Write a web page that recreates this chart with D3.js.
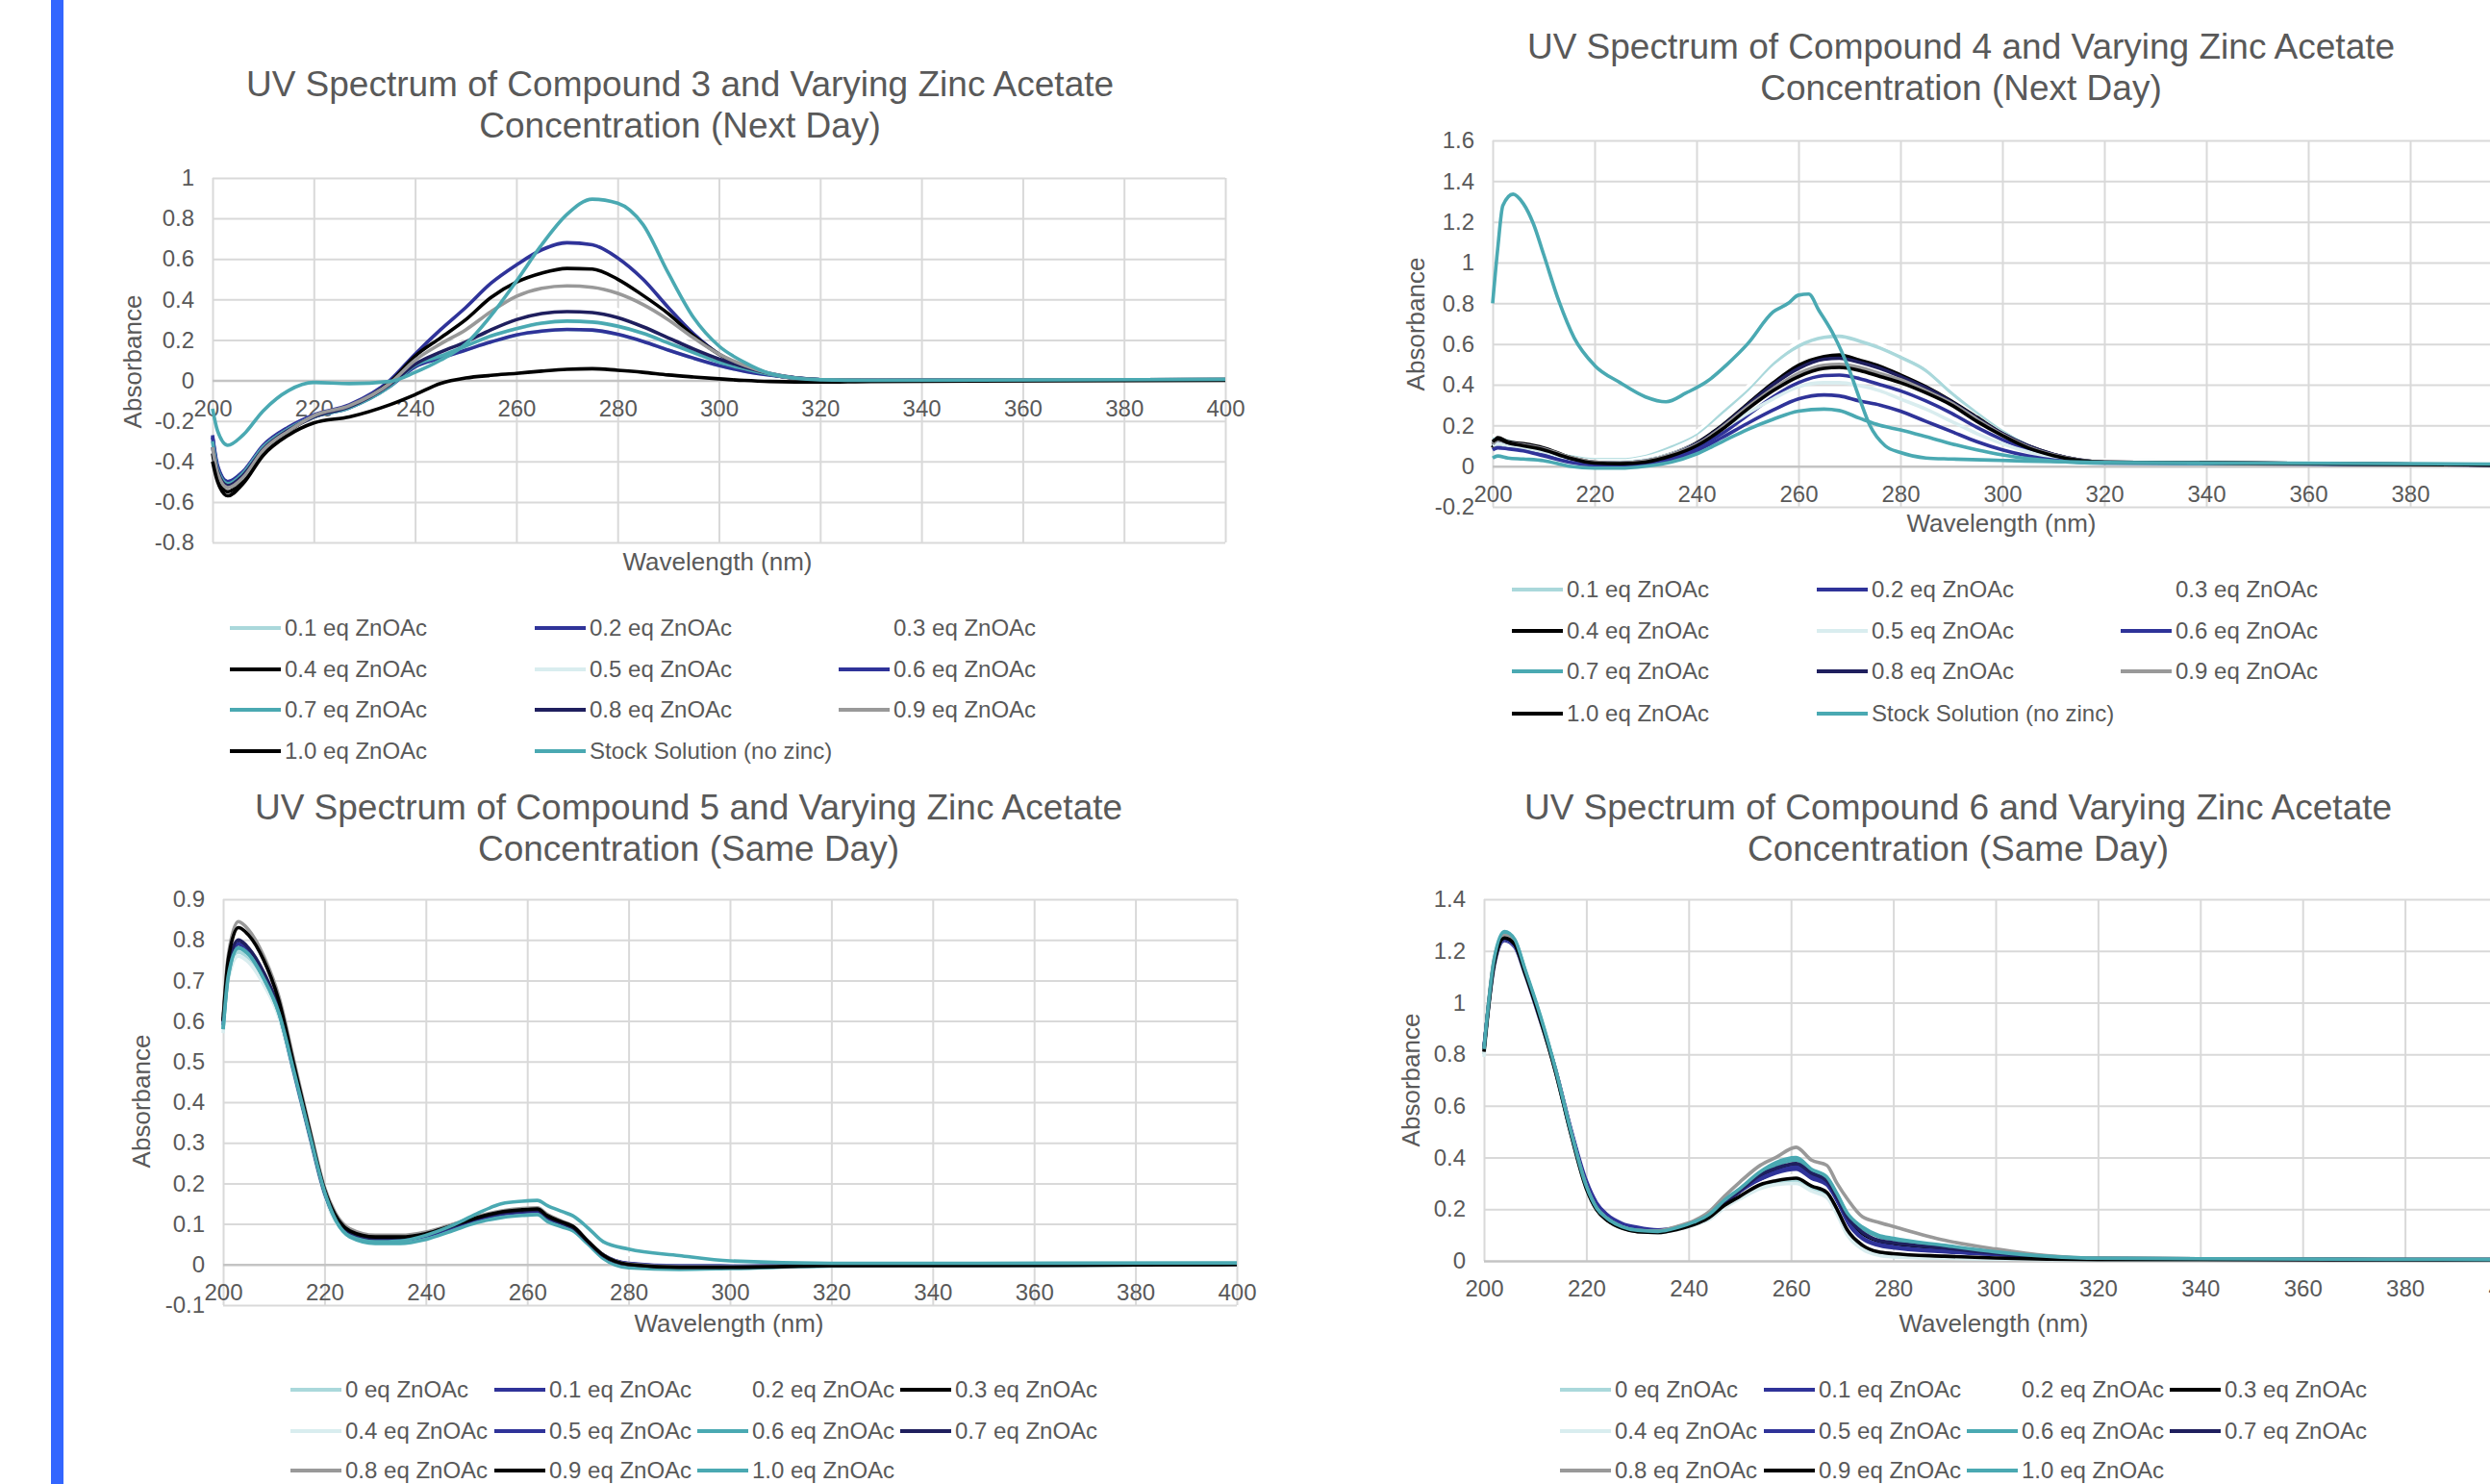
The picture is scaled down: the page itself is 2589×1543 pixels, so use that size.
<!DOCTYPE html>
<html>
<head>
<meta charset="utf-8">
<script src="https://cdn.jsdelivr.net/npm/d3@7"></script>
<style>
    body { margin: 0; background: #fff; overflow: hidden; }
    text { font-family: "Liberation Sans", Arial, sans-serif; fill: #595959; }
</style>
</head>
<body>
<div id="chart"></div>
<script>

/* * * * * * * * * * * * *
 *   UV spectra, 4 panels *
 * * * * * * * * * * * * */

// ---- Compound 3 (next day) ----
const c3Wl = [200,201,203,206,210,215,220,227,235,240,245,250,255,260,265,270,275,280,285,290,295,300,305,310,320,330,400];
const c3Eq01 = [-0.28,-0.43,-0.50,-0.45,-0.33,-0.24,-0.18,-0.135,-0.03,0.066,0.11,0.15,0.19,0.224,0.243,0.251,0.248,0.227,0.192,0.15,0.11,0.074,0.046,0.027,0.004,0,0.004];
const c3Eq02 = [-0.27,-0.42,-0.50,-0.45,-0.32,-0.23,-0.17,-0.12,0.0,0.13,0.25,0.36,0.48,0.57,0.645,0.68,0.67,0.605,0.50,0.36,0.23,0.13,0.067,0.03,0.003,0,0.005];
const c3Eq03 = [-0.32,-0.45,-0.52,-0.47,-0.34,-0.245,-0.18,-0.13,-0.02,0.09,0.16,0.22,0.29,0.34,0.37,0.38,0.375,0.35,0.30,0.24,0.17,0.11,0.065,0.03,0.003,0,0.004];
const c3Eq04 = [-0.36,-0.48,-0.55,-0.49,-0.35,-0.25,-0.18,-0.13,-0.01,0.12,0.21,0.30,0.41,0.485,0.53,0.553,0.55,0.50,0.42,0.33,0.22,0.13,0.067,0.03,0.003,0,0.005];
const c3Eq05 = [-0.30,-0.44,-0.51,-0.46,-0.33,-0.24,-0.18,-0.135,-0.03,0.074,0.12,0.168,0.218,0.255,0.281,0.291,0.287,0.266,0.232,0.184,0.137,0.09,0.057,0.03,0.004,0,0.005];
const c3Eq06 = [-0.28,-0.43,-0.50,-0.46,-0.33,-0.24,-0.18,-0.135,-0.03,0.067,0.11,0.15,0.19,0.225,0.244,0.252,0.249,0.228,0.193,0.15,0.11,0.074,0.046,0.027,0.004,0,0.004];
const c3Eq07 = [-0.30,-0.44,-0.51,-0.46,-0.33,-0.24,-0.18,-0.135,-0.03,0.075,0.12,0.17,0.22,0.256,0.283,0.293,0.288,0.268,0.233,0.185,0.138,0.09,0.058,0.03,0.004,0,0.005];
const c3Eq08 = [-0.33,-0.45,-0.52,-0.47,-0.34,-0.245,-0.18,-0.13,-0.02,0.08,0.14,0.19,0.25,0.30,0.33,0.34,0.335,0.31,0.265,0.21,0.155,0.106,0.067,0.035,0.004,0,0.004];
const c3Eq09 = [-0.33,-0.46,-0.53,-0.48,-0.345,-0.25,-0.175,-0.125,-0.015,0.10,0.18,0.25,0.34,0.415,0.455,0.467,0.46,0.43,0.375,0.30,0.21,0.13,0.075,0.035,0.003,0,0.005];
const c3Eq10 = [-0.40,-0.50,-0.57,-0.51,-0.37,-0.27,-0.21,-0.18,-0.12,-0.07,-0.015,0.012,0.025,0.035,0.046,0.055,0.058,0.05,0.04,0.027,0.017,0.008,0.0,-0.005,-0.008,-0.005,0.0];
const c3Stock = [-0.14,-0.25,-0.32,-0.27,-0.15,-0.05,-0.01,-0.016,-0.005,0.04,0.10,0.18,0.32,0.49,0.67,0.82,0.895,0.875,0.77,0.53,0.31,0.17,0.09,0.035,0.003,0.0,0.005];

// ---- Compound 4 (next day) ----
const c4Wl = [200,201,203,206,210,215,220,225,230,235,240,245,250,255,260,265,268,272,276,280,285,290,295,300,305,310,320,400];
const c4Eq01 = [0.14,0.14,0.13,0.115,0.09,0.06,0.043,0.043,0.06,0.10,0.16,0.265,0.376,0.503,0.59,0.633,0.638,0.614,0.58,0.535,0.47,0.36,0.265,0.18,0.115,0.065,0.028,0.008];
const c4Eq02 = [0.10,0.11,0.10,0.09,0.065,0.03,0.01,0.008,0.015,0.04,0.09,0.16,0.25,0.34,0.41,0.445,0.447,0.43,0.40,0.37,0.32,0.26,0.19,0.13,0.08,0.046,0.018,0.005];
const c4Eq03 = [0.15,0.15,0.14,0.12,0.095,0.065,0.048,0.048,0.065,0.11,0.17,0.28,0.39,0.52,0.61,0.655,0.66,0.64,0.60,0.555,0.49,0.38,0.28,0.19,0.12,0.07,0.03,0.008];
const c4Eq04 = [0.09,0.14,0.12,0.11,0.09,0.045,0.02,0.016,0.027,0.06,0.114,0.20,0.305,0.408,0.495,0.538,0.546,0.52,0.49,0.448,0.39,0.32,0.24,0.16,0.10,0.058,0.02,0.005];
const c4Eq05 = [0.10,0.11,0.10,0.09,0.07,0.035,0.02,0.02,0.03,0.06,0.11,0.18,0.26,0.33,0.39,0.41,0.41,0.395,0.37,0.33,0.28,0.22,0.16,0.11,0.07,0.04,0.018,0.006];
const c4Eq06 = [0.08,0.09,0.085,0.075,0.05,0.02,0.005,0.003,0.01,0.03,0.075,0.14,0.21,0.275,0.33,0.35,0.345,0.32,0.30,0.27,0.22,0.17,0.12,0.08,0.05,0.03,0.015,0.005];
const c4Eq07 = [0.04,0.05,0.04,0.035,0.027,0.0,-0.01,-0.01,0.0,0.02,0.06,0.12,0.18,0.23,0.27,0.28,0.273,0.235,0.20,0.178,0.145,0.11,0.08,0.055,0.037,0.025,0.015,0.008];
const c4Eq08 = [0.11,0.13,0.115,0.105,0.085,0.04,0.018,0.015,0.025,0.055,0.11,0.195,0.30,0.40,0.48,0.525,0.53,0.51,0.48,0.44,0.385,0.315,0.235,0.16,0.10,0.057,0.02,0.005];
const c4Eq09 = [0.11,0.13,0.115,0.105,0.085,0.045,0.02,0.015,0.025,0.055,0.105,0.19,0.29,0.38,0.455,0.495,0.50,0.485,0.455,0.425,0.37,0.31,0.23,0.155,0.095,0.055,0.02,0.005];
const c4Eq10 = [0.12,0.135,0.115,0.10,0.08,0.04,0.015,0.012,0.02,0.05,0.10,0.18,0.28,0.37,0.44,0.48,0.485,0.47,0.44,0.41,0.36,0.30,0.22,0.15,0.09,0.052,0.02,0.005];
const c4StockWl = [200,201,202,204,206,208,210,213,216,220,225,230,234,238,242,246,250,255,258,260,262,264,267,270,272,274,277,280,285,290,300,320,400];
const c4Stock = [0.80,1.07,1.28,1.336,1.29,1.19,1.04,0.81,0.63,0.495,0.41,0.34,0.316,0.36,0.415,0.50,0.60,0.757,0.80,0.84,0.845,0.765,0.64,0.47,0.33,0.20,0.10,0.067,0.04,0.035,0.028,0.018,0.01];

// ---- Compound 5 (same day) ----
const c5Wl = [200,201,203,205,208,211,214,217,220,222,225,230,235,240,245,250,255,259,262,264,267,269,272,275,280,290,300,320,400];
const c5Eq00 = [0.58,0.71,0.77,0.755,0.70,0.62,0.47,0.32,0.175,0.115,0.075,0.058,0.058,0.068,0.088,0.11,0.123,0.128,0.13,0.113,0.098,0.088,0.055,0.022,0.0,-0.006,-0.005,-0.002,0];
const c5Eq01 = [0.59,0.73,0.795,0.775,0.715,0.625,0.475,0.32,0.175,0.115,0.076,0.06,0.06,0.07,0.09,0.11,0.125,0.13,0.132,0.115,0.1,0.09,0.056,0.024,0.003,-0.003,-0.003,0.0,0.002];
const c5Eq02 = [0.59,0.73,0.80,0.78,0.72,0.63,0.48,0.325,0.18,0.12,0.078,0.062,0.062,0.072,0.092,0.112,0.127,0.132,0.134,0.117,0.10,0.09,0.06,0.035,0.025,0.012,0.005,0.0,0.0];
const c5Eq03 = [0.60,0.73,0.79,0.775,0.715,0.625,0.475,0.325,0.18,0.12,0.08,0.065,0.066,0.075,0.094,0.114,0.128,0.133,0.135,0.118,0.102,0.092,0.056,0.022,0.0,-0.006,-0.006,-0.003,0];
const c5Eq04 = [0.57,0.70,0.76,0.745,0.69,0.61,0.465,0.315,0.17,0.11,0.072,0.056,0.056,0.066,0.086,0.108,0.12,0.126,0.128,0.11,0.095,0.085,0.052,0.02,0.0,-0.004,-0.004,0,0];
const c5Eq05 = [0.59,0.72,0.79,0.772,0.712,0.622,0.472,0.322,0.177,0.117,0.077,0.06,0.06,0.07,0.09,0.11,0.124,0.129,0.131,0.114,0.099,0.089,0.055,0.023,0.002,-0.004,-0.004,-0.001,0.002];
const c5Eq06 = [0.58,0.71,0.78,0.765,0.705,0.62,0.475,0.325,0.18,0.115,0.068,0.052,0.052,0.062,0.082,0.103,0.116,0.121,0.123,0.106,0.092,0.083,0.05,0.015,-0.008,-0.012,-0.01,-0.004,0];
const c5Eq07 = [0.60,0.73,0.80,0.78,0.72,0.63,0.478,0.325,0.18,0.12,0.078,0.062,0.063,0.073,0.093,0.113,0.127,0.132,0.134,0.117,0.101,0.091,0.056,0.022,0.0,-0.006,-0.006,-0.002,0];
const c5Eq08 = [0.61,0.76,0.845,0.825,0.76,0.66,0.50,0.34,0.19,0.13,0.088,0.072,0.072,0.08,0.098,0.118,0.132,0.138,0.14,0.123,0.106,0.095,0.058,0.024,0.001,-0.006,-0.006,-0.003,0];
const c5Eq09 = [0.60,0.75,0.83,0.812,0.75,0.65,0.49,0.333,0.185,0.125,0.083,0.068,0.068,0.076,0.095,0.115,0.13,0.135,0.137,0.12,0.104,0.094,0.057,0.023,0.0,-0.007,-0.007,-0.003,0];
const c5Eq10 = [0.58,0.71,0.78,0.765,0.705,0.62,0.475,0.325,0.18,0.115,0.07,0.056,0.058,0.072,0.095,0.125,0.15,0.156,0.158,0.145,0.13,0.12,0.09,0.056,0.038,0.022,0.009,0.003,0.004];

// ---- Compound 6 (same day) ----
const c6Wl = [200,202,204,206,208,211,214,217,220,222,224,227,230,234,238,241,244,247,250,254,257,261,264,267,269,271,274,277,280,290,300,310,320,400];
const c6Eq00 = [0.80,1.15,1.25,1.225,1.115,0.94,0.73,0.49,0.28,0.20,0.16,0.128,0.115,0.11,0.123,0.14,0.165,0.21,0.245,0.285,0.30,0.31,0.28,0.255,0.19,0.11,0.05,0.027,0.02,0.012,0.008,0.006,0.005,0.004];
const c6Eq01 = [0.83,1.14,1.24,1.215,1.11,0.93,0.74,0.51,0.31,0.225,0.18,0.145,0.13,0.12,0.13,0.145,0.175,0.225,0.265,0.315,0.34,0.355,0.32,0.295,0.23,0.15,0.085,0.06,0.05,0.035,0.022,0.012,0.008,0.004];
const c6Eq02 = [0.81,1.15,1.25,1.225,1.115,0.935,0.735,0.495,0.285,0.20,0.16,0.128,0.115,0.11,0.124,0.142,0.17,0.215,0.255,0.30,0.32,0.33,0.295,0.27,0.205,0.125,0.065,0.04,0.032,0.02,0.012,0.008,0.006,0.004];
const c6Eq03 = [0.82,1.16,1.26,1.235,1.12,0.94,0.735,0.495,0.285,0.20,0.16,0.128,0.114,0.11,0.125,0.145,0.175,0.225,0.27,0.33,0.355,0.375,0.335,0.305,0.24,0.165,0.105,0.077,0.067,0.048,0.028,0.015,0.009,0.005];
const c6Eq04 = [0.79,1.14,1.245,1.22,1.11,0.935,0.73,0.49,0.28,0.20,0.16,0.127,0.114,0.11,0.122,0.138,0.16,0.205,0.24,0.28,0.295,0.30,0.27,0.245,0.18,0.10,0.045,0.022,0.015,0.01,0.007,0.005,0.004,0.003];
const c6Eq05 = [0.82,1.15,1.245,1.22,1.115,0.935,0.74,0.505,0.30,0.215,0.172,0.14,0.125,0.116,0.128,0.145,0.175,0.225,0.268,0.32,0.345,0.365,0.33,0.30,0.235,0.155,0.09,0.065,0.055,0.038,0.024,0.013,0.008,0.004];
const c6Eq06 = [0.82,1.16,1.265,1.24,1.125,0.945,0.74,0.50,0.29,0.205,0.165,0.132,0.118,0.114,0.13,0.15,0.18,0.232,0.278,0.34,0.37,0.39,0.35,0.32,0.255,0.18,0.125,0.095,0.082,0.056,0.033,0.017,0.01,0.005];
const c6Eq07 = [0.82,1.155,1.255,1.23,1.12,0.94,0.735,0.495,0.288,0.203,0.163,0.13,0.116,0.112,0.127,0.147,0.177,0.228,0.272,0.333,0.358,0.377,0.34,0.31,0.245,0.17,0.11,0.08,0.07,0.05,0.03,0.016,0.009,0.005];
const c6Eq08 = [0.81,1.17,1.26,1.235,1.125,0.94,0.74,0.50,0.29,0.205,0.165,0.132,0.118,0.116,0.135,0.155,0.19,0.25,0.305,0.37,0.40,0.44,0.39,0.37,0.30,0.24,0.17,0.15,0.133,0.08,0.046,0.02,0.01,0.005];
const c6Eq09 = [0.81,1.15,1.25,1.225,1.115,0.935,0.73,0.49,0.28,0.198,0.158,0.126,0.113,0.11,0.123,0.14,0.168,0.215,0.25,0.295,0.31,0.32,0.29,0.265,0.20,0.12,0.06,0.035,0.028,0.018,0.011,0.007,0.005,0.004];
const c6Eq10 = [0.82,1.17,1.275,1.245,1.13,0.95,0.74,0.50,0.29,0.205,0.165,0.132,0.118,0.114,0.13,0.15,0.18,0.235,0.28,0.345,0.38,0.40,0.355,0.325,0.26,0.185,0.13,0.10,0.087,0.06,0.035,0.018,0.01,0.005];

// legend labels
const labelsNext = ['0.1 eq ZnOAc','0.2 eq ZnOAc','0.3 eq ZnOAc','0.4 eq ZnOAc','0.5 eq ZnOAc','0.6 eq ZnOAc',
    '0.7 eq ZnOAc','0.8 eq ZnOAc','0.9 eq ZnOAc','1.0 eq ZnOAc','Stock Solution (no zinc)'];
const labelsSame = ['0 eq ZnOAc','0.1 eq ZnOAc','0.2 eq ZnOAc','0.3 eq ZnOAc','0.4 eq ZnOAc','0.5 eq ZnOAc',
    '0.6 eq ZnOAc','0.7 eq ZnOAc','0.8 eq ZnOAc','0.9 eq ZnOAc','1.0 eq ZnOAc'];

// series colours (same order for every panel)
const seriesColors = ['#aad8db','#2f3399','#ffffff','#000000','#d9edef','#2f3399',
    '#4aa9b2','#1f1f5e','#999999','#000000','#4aa9b2'];

const xTickValues = d3.range(200, 401, 20);

const pageWidth = 2589;
const pageHeight = 1543;

function makeSeries(wl, valueLists, labels, lastWl) {
    return valueLists.map((v, i) => ({
        wl: (lastWl && i === valueLists.length - 1) ? lastWl : wl,
        vals: v,
        color: seriesColors[i],
        label: labels[i]
    }));
}

const panels = [
    {
        title: ['UV Spectrum of Compound 3 and Varying Zinc Acetate', 'Concentration (Next Day)'],
        titleX: 707, titleY: 100,
        plot: { left: 221, right: 1274, top: 185, bottom: 564 },
        yDomain: [-0.8, 1], yStep: 0.2,
        xTitle: { x: 746, y: 593 }, yTitle: { x: 147, y: 376 },
        legend: { cols: [239, 556, 872], rows: [653, 696, 738, 781] },
        series: makeSeries(c3Wl, [c3Eq01,c3Eq02,c3Eq03,c3Eq04,c3Eq05,c3Eq06,c3Eq07,c3Eq08,c3Eq09,c3Eq10,c3Stock], labelsNext)
    },
    {
        title: ['UV Spectrum of Compound 4 and Varying Zinc Acetate', 'Concentration (Next Day)'],
        titleX: 2039, titleY: 61,
        plot: { left: 1552, right: 2612, top: 146, bottom: 527 },
        yDomain: [-0.2, 1.6], yStep: 0.2,
        xTitle: { x: 2081, y: 553 }, yTitle: { x: 1481, y: 337 },
        legend: { cols: [1572, 1889, 2205], rows: [613, 656, 698, 742] },
        series: makeSeries(c4Wl, [c4Eq01,c4Eq02,c4Eq03,c4Eq04,c4Eq05,c4Eq06,c4Eq07,c4Eq08,c4Eq09,c4Eq10,c4Stock], labelsNext, c4StockWl)
    },
    {
        title: ['UV Spectrum of Compound 5 and Varying Zinc Acetate', 'Concentration (Same Day)'],
        titleX: 716, titleY: 852,
        plot: { left: 232, right: 1286, top: 935, bottom: 1357 },
        yDomain: [-0.1, 0.9], yStep: 0.1,
        xTitle: { x: 758, y: 1385 }, yTitle: { x: 156, y: 1145 },
        legend: { cols: [302, 514, 725, 936], rows: [1445, 1488, 1529] },
        series: makeSeries(c5Wl, [c5Eq00,c5Eq01,c5Eq02,c5Eq03,c5Eq04,c5Eq05,c5Eq06,c5Eq07,c5Eq08,c5Eq09,c5Eq10], labelsSame)
    },
    {
        title: ['UV Spectrum of Compound 6 and Varying Zinc Acetate', 'Concentration (Same Day)'],
        titleX: 2036, titleY: 852,
        plot: { left: 1543, right: 2607, top: 935, bottom: 1311 },
        yDomain: [0, 1.4], yStep: 0.2,
        xTitle: { x: 2073, y: 1385 }, yTitle: { x: 1476, y: 1123 },
        legend: { cols: [1622, 1834, 2045, 2256], rows: [1445, 1488, 1529] },
        series: makeSeries(c6Wl, [c6Eq00,c6Eq01,c6Eq02,c6Eq03,c6Eq04,c6Eq05,c6Eq06,c6Eq07,c6Eq08,c6Eq09,c6Eq10], labelsSame)
    }
];

const svg = d3.select('#chart')
    .append('svg')
    .attr('width', pageWidth)
    .attr('height', pageHeight);

svg.append('rect').attr('width', pageWidth).attr('height', pageHeight).attr('fill', '#fff');

// blue bar on the left edge
svg.append('rect')
    .attr('x', 53).attr('y', 0)
    .attr('width', 13).attr('height', pageHeight)
    .attr('fill', '#3366ff');

function fmtY(d) {
    return String(+d.toFixed(1));
}

function drawPanel(p) {
    const g = svg.append('g');
    const w = p.plot.right - p.plot.left;
    const h = p.plot.bottom - p.plot.top;

    const x = d3.scaleLinear().domain([200, 400]).range([p.plot.left, p.plot.right]);
    const y = d3.scaleLinear().domain(p.yDomain).range([p.plot.bottom, p.plot.top]);

    const nY = Math.round((p.yDomain[1] - p.yDomain[0]) / p.yStep);
    const yTickValues = d3.range(nY + 1).map(i => +(p.yDomain[0] + i * p.yStep).toFixed(2));

    // vertical grid lines
    g.append('g')
        .attr('transform', `translate(0, ${p.plot.bottom})`)
        .call(d3.axisBottom(x).tickValues(xTickValues).tickSize(-h).tickFormat(''))
        .call(a => a.select('.domain').remove())
        .call(a => a.selectAll('line').attr('stroke', '#d9d9d9').attr('stroke-width', 2));

    // horizontal grid + y labels
    g.append('g')
        .attr('transform', `translate(${p.plot.left}, 0)`)
        .call(d3.axisLeft(y).tickValues(yTickValues).tickSize(-w).tickPadding(19).tickFormat(fmtY))
        .call(a => a.select('.domain').remove())
        .call(a => a.selectAll('line')
            .attr('stroke', d => d === 0 ? '#c4c4c4' : '#d9d9d9')
            .attr('stroke-width', d => d === 0 ? 2.5 : 2))
        .call(a => a.selectAll('text')
            .attr('fill', '#595959')
            .attr('font-size', 24)
            .attr('font-family', '"Liberation Sans", Arial, sans-serif'));

    // x labels sit under the zero line (labels fully past the page edge are skipped)
    const xLabelValues = xTickValues.filter(d => x(d) - 20 < pageWidth);
    g.append('g')
        .attr('transform', `translate(0, ${y(0)})`)
        .call(d3.axisBottom(x).tickValues(xLabelValues).tickSize(0).tickPadding(20))
        .call(a => a.select('.domain').remove())
        .call(a => a.selectAll('text')
            .attr('fill', '#595959')
            .attr('font-size', 24)
            .attr('font-family', '"Liberation Sans", Arial, sans-serif'));

    // spectra
    const line = d3.line()
        .x(d => x(d[0]))
        .y(d => y(d[1]))
        .curve(d3.curveMonotoneX);

    g.append('g')
        .selectAll('path')
        .data(p.series)
        .join('path')
        .attr('d', s => line(d3.zip(s.wl, s.vals)))
        .attr('fill', 'none')
        .attr('stroke', s => s.color)
        .attr('stroke-width', 3.6)
        .attr('stroke-linejoin', 'round');

    // titles
    g.append('text')
        .attr('x', p.titleX).attr('y', p.titleY)
        .attr('text-anchor', 'middle')
        .attr('font-size', 37)
        .text(p.title[0]);
    g.append('text')
        .attr('x', p.titleX).attr('y', p.titleY + 43)
        .attr('text-anchor', 'middle')
        .attr('font-size', 37)
        .text(p.title[1]);

    g.append('text')
        .attr('x', p.xTitle.x).attr('y', p.xTitle.y)
        .attr('text-anchor', 'middle')
        .attr('font-size', 26)
        .text('Wavelength (nm)');

    g.append('text')
        .attr('transform', `translate(${p.yTitle.x}, ${p.yTitle.y}) rotate(-90)`)
        .attr('text-anchor', 'middle')
        .attr('font-size', 26)
        .text('Absorbance');

    // legend
    const nCol = p.legend.cols.length;
    const items = g.append('g')
        .selectAll('g')
        .data(p.series)
        .join('g')
        .attr('transform', (d, i) => `translate(${p.legend.cols[i % nCol]}, ${p.legend.rows[Math.floor(i / nCol)]})`);

    items.append('line')
        .attr('x1', 0).attr('x2', 53)
        .attr('stroke', d => d.color)
        .attr('stroke-width', 4);

    items.append('text')
        .attr('x', 57).attr('y', 8)
        .attr('font-size', 24)
        .text(d => d.label);
}

panels.forEach(drawPanel);

</script>
</body>
</html>
